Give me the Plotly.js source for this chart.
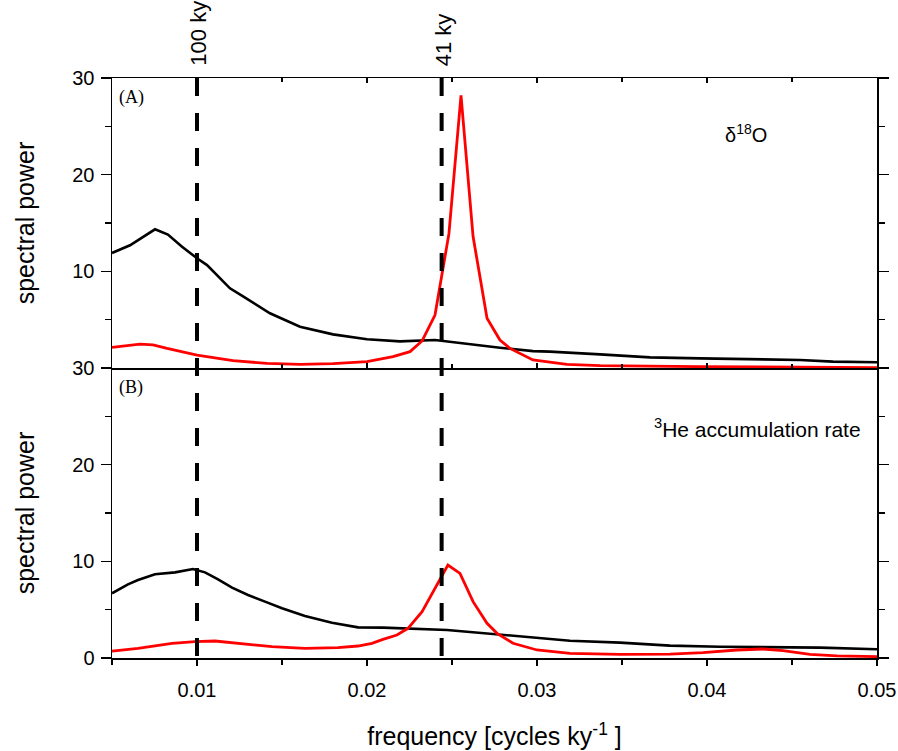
<!DOCTYPE html>
<html>
<head>
<meta charset="utf-8">
<script src="https://cdn.plot.ly/plotly-3.0.1.min.js"></script>
<style>html,body{margin:0;padding:0;background:#fff;}#chart{width:898px;height:751px;}</style>
</head>
<body>
<div id="chart"></div>
<script>
// Panel A (delta 18O) - black spectrum
const aBlackFreq = [0.0050,0.00606,0.00753,0.00829,0.00912,0.0100,0.01059,0.01194,0.01271,0.01429,0.01606,0.0180,0.0200,0.02194,0.0240,0.02606,0.02782,0.02976,0.03076,0.03371,0.03665,0.03959,0.04253,0.04353,0.04547,0.04741,0.0500];
const aBlackPower = [11.9,12.7,14.35,13.8,12.55,11.35,10.65,8.24,7.4,5.66,4.27,3.48,2.97,2.75,2.9,2.45,2.1,1.75,1.69,1.41,1.1,1.0,0.9,0.93,0.83,0.66,0.59];
// Panel A - red spectrum
const aRedFreq = [0.0050,0.00665,0.00741,0.00824,0.0100,0.01212,0.01412,0.01606,0.0180,0.0200,0.02153,0.02253,0.02324,0.0240,0.02482,0.02553,0.02624,0.02706,0.02782,0.02841,0.02976,0.03176,0.03371,0.03471,0.03959,0.04547,0.0500];
const aRedPower = [2.14,2.48,2.4,2.03,1.34,0.76,0.48,0.38,0.45,0.66,1.17,1.69,2.8,5.48,13.9,28.2,13.6,5.14,2.9,2.03,0.83,0.38,0.24,0.21,0.14,0.08,0.03];
// Panel B (3He accumulation rate) - black spectrum
const bBlackFreq = [0.0050,0.00594,0.00653,0.00753,0.00871,0.00976,0.01047,0.01124,0.01206,0.0130,0.0140,0.0150,0.01635,0.01794,0.01947,0.02094,0.02471,0.02765,0.0290,0.0300,0.03194,0.03488,0.03782,0.04076,0.04371,0.04665,0.0500];
const bBlackPower = [6.69,7.62,8.07,8.66,8.86,9.21,8.86,8.14,7.27,6.52,5.83,5.14,4.34,3.65,3.17,3.14,2.9,2.45,2.28,2.1,1.79,1.59,1.28,1.17,1.14,1.07,0.9];
// Panel B - red spectrum
const bRedFreq = [0.0050,0.00653,0.00853,0.00988,0.01106,0.01241,0.01441,0.01635,0.01829,0.01947,0.02029,0.02094,0.02176,0.02241,0.02324,0.02476,0.02547,0.02624,0.02706,0.02765,0.02859,0.0300,0.03194,0.03488,0.03782,0.03976,0.04176,0.04329,0.04447,0.04606,0.04765,0.0500];
const bRedPower = [0.72,1.0,1.52,1.69,1.76,1.52,1.17,1.0,1.07,1.24,1.52,1.93,2.38,3.07,4.79,9.62,8.76,5.83,3.59,2.55,1.52,0.83,0.48,0.38,0.41,0.55,0.83,0.93,0.76,0.38,0.21,0.14];

// Orbital periods marked by dashed lines (ky)
const periodsKy = [100, 41];
const periodLabels = ['100 ky', '41 ky'];
const xTickVals = [0.01, 0.02, 0.03, 0.04, 0.05];
const xTickText = ['0.01', '0.02', '0.03', '0.04', '0.05'];
const yTickValsA = [10, 20, 30];
const yTickValsB = [0, 10, 20, 30];

const sans = 'Arial, "Liberation Sans", sans-serif';
const serif = '"Times New Roman", "Liberation Serif", serif';

const traces = [
  {x: aBlackFreq, y: aBlackPower, xaxis: 'x2', yaxis: 'y2', mode: 'lines', line: {color: '#000000', width: 2.6}},
  {x: aRedFreq, y: aRedPower, xaxis: 'x2', yaxis: 'y2', mode: 'lines', line: {color: '#ff0000', width: 2.8}},
  {x: bBlackFreq, y: bBlackPower, xaxis: 'x', yaxis: 'y', mode: 'lines', line: {color: '#000000', width: 2.6}},
  {x: bRedFreq, y: bRedPower, xaxis: 'x', yaxis: 'y', mode: 'lines', line: {color: '#ff0000', width: 2.8}}
];

const yCommon = {
  range: [0, 30], showgrid: false, zeroline: false, showline: true, linecolor: '#000', linewidth: 1.5,
  ticks: 'outside', ticklen: 10, tickwidth: 1.5, tickcolor: '#000', mirror: 'ticks',
  minor: {dtick: 5, ticklen: 6, tickwidth: 1.5, tickcolor: '#000', ticks: 'outside'},
  tickfont: {family: sans, size: 20, color: '#000'},
  tickmode: 'array'
};

const shapes = periodsKy.map(p => ({
  type: 'line', xref: 'x', yref: 'paper', x0: 1 / p, x1: 1 / p, y0: 1, y1: 0,
  line: {color: '#000', width: 4, dash: '18px,17px'}
}));

const annotations = [
  {xref: 'paper', yref: 'paper', x: 0, y: 0.967, xanchor: 'left', yanchor: 'middle', xshift: 5, text: '(A)', showarrow: false, font: {family: serif, size: 18, color: '#000'}},
  {xref: 'paper', yref: 'paper', x: 0, y: 0.467, xanchor: 'left', yanchor: 'middle', xshift: 5, text: '(B)', showarrow: false, font: {family: serif, size: 18, color: '#000'}},
  {xref: 'paper', yref: 'paper', x: 0.829, y: 0.905, xanchor: 'center', yanchor: 'middle', text: 'δ<sup>18</sup>O', showarrow: false, font: {family: sans, size: 20, color: '#000'}},
  {xref: 'paper', yref: 'paper', x: 0.9817, y: 0.3966, xanchor: 'right', yanchor: 'middle', text: '<sup>3</sup>He accumulation rate', showarrow: false, font: {family: sans, size: 21, color: '#000'}}
].concat(periodsKy.map((p, i) => ({
  xref: 'x', yref: 'paper', x: 1 / p, y: 1.017, xanchor: 'center', yanchor: 'bottom', xshift: 2,
  text: periodLabels[i], textangle: -90, showarrow: false, font: {family: sans, size: 22, color: '#000'}
})));

const layout = {
  width: 898, height: 751,
  margin: {l: 112, r: 21, t: 78, b: 93},
  paper_bgcolor: '#fff', plot_bgcolor: '#fff',
  showlegend: false,
  xaxis: {
    domain: [0, 1], anchor: 'y', range: [0.005, 0.05], showgrid: false, zeroline: false,
    showline: true, linecolor: '#000', linewidth: 1.5,
    ticks: 'outside', ticklen: 6, tickwidth: 1.5, tickcolor: '#000',
    tickmode: 'array', tickvals: xTickVals, ticktext: xTickText,
    minor: {tickvals: [0.005, 0.015, 0.025, 0.035, 0.045], ticklen: 5, tickwidth: 1.5, tickcolor: '#000', ticks: 'outside'},
    tickfont: {family: sans, size: 20, color: '#000'}, ticklabelstandoff: 7,
    title: {text: 'frequency [cycles ky<sup>-1</sup> ]', font: {family: sans, size: 25, color: '#000'}, standoff: 28}
  },
  xaxis2: {
    domain: [0, 1], anchor: 'y2', matches: 'x', range: [0.005, 0.05], showgrid: false, zeroline: false,
    showline: true, linecolor: '#000', linewidth: 1.5, mirror: 'ticks',
    ticks: 'inside', ticklen: 5, tickwidth: 1.5, tickcolor: '#000',
    tickmode: 'array', tickvals: xTickVals, showticklabels: false,
    minor: {tickvals: [0.005, 0.015, 0.025, 0.035, 0.045], ticklen: 4, tickwidth: 1.5, tickcolor: '#000', ticks: 'inside'}
  },
  yaxis: Object.assign({}, yCommon, {
    domain: [0, 0.5], anchor: 'x', tickvals: yTickValsB, ticklabelstandoff: 2,
    title: {text: 'spectral power', font: {family: sans, size: 25, color: '#000'}, standoff: 30}
  }),
  yaxis2: Object.assign({}, yCommon, {
    domain: [0.5, 1], anchor: 'x2', tickvals: yTickValsA, ticklabelstandoff: 2,
    title: {text: 'spectral power', font: {family: sans, size: 25, color: '#000'}, standoff: 30}
  }),
  shapes: shapes,
  annotations: annotations
};

Plotly.newPlot('chart', traces, layout, {displayModeBar: false, staticPlot: true});
</script>
</body>
</html>
